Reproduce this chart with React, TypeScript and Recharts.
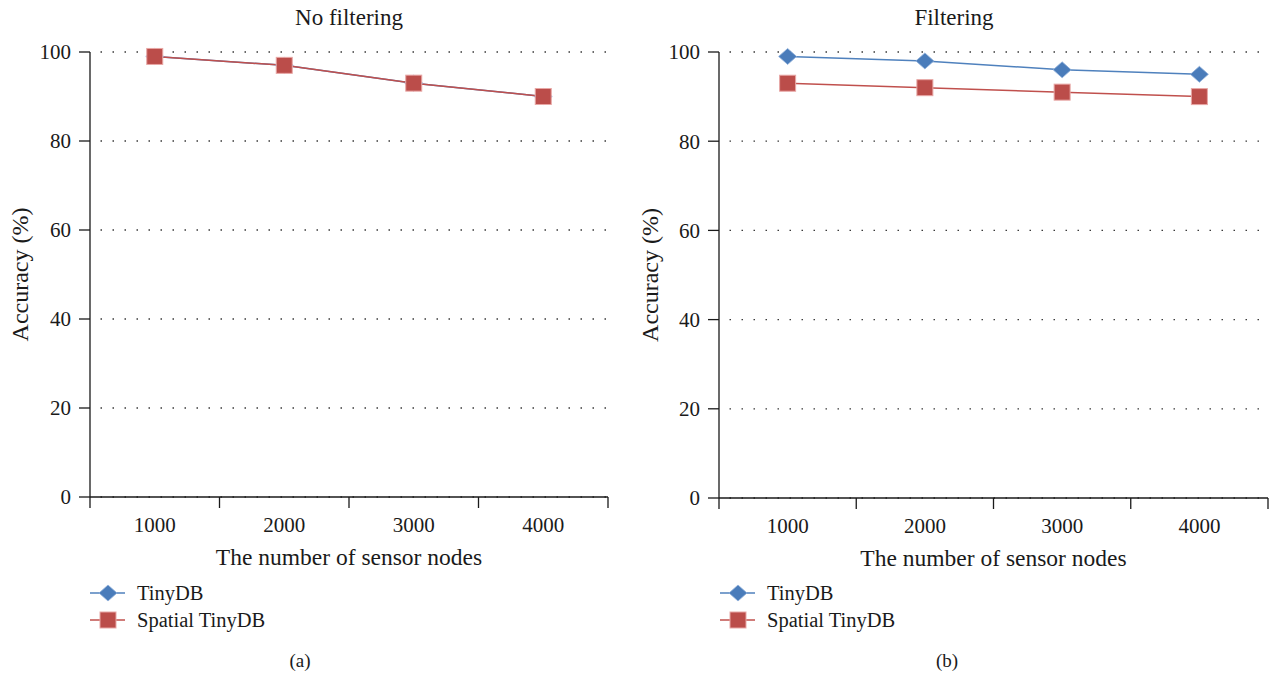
import React from 'react';
import { LineChart, Line, XAxis, YAxis, CartesianGrid, Legend, Label } from 'recharts';

const categories = [1000, 2000, 3000, 4000];
const noFilterTinyDB = [99, 97, 93, 90];
const noFilterSpatial = [99, 97, 93, 90];
const filterTinyDB = [99, 98, 96, 95];
const filterSpatial = [93, 92, 91, 90];
const yTicks = [0, 20, 40, 60, 80, 100];
const seriesNames = ['TinyDB', 'Spatial TinyDB'];
const panelTitles = ['No filtering', 'Filtering'];
const panelTags = ['(a)', '(b)'];
const xLabel = 'The number of sensor nodes';
const yLabel = 'Accuracy (%)';

const FONT = "'Liberation Serif', 'DejaVu Serif', serif";
const BLUE_LINE = '#4f81bd';
const BLUE_MARK = '#4a7cba';
const RED_LINE = '#c0504d';
const RED_MARK = '#bb4d4a';
const INK = '#1a1a1a';

const build = (a: number[], b: number[]) =>
  categories.map((c, i) => ({ pos: i + 1, label: c, tiny: a[i], spatial: b[i] }));

const xTicks = categories
  .flatMap((_, i) => [i + 0.5, i + 1])
  .concat([categories.length + 0.5]);

const XTick = (props: any) => {
  const { x, y, payload } = props;
  const v = payload.value;
  if (Number.isInteger(v)) {
    return (
      <text x={x} y={y + 35} textAnchor="middle" fontSize={21} fill={INK} fontFamily={FONT}>
        {categories[v - 1]}
      </text>
    );
  }
  return <line x1={x} y1={y} x2={x} y2={y + 11} stroke={INK} strokeWidth={1.3} />;
};

const Diamond = (props: any) => {
  const { cx, cy } = props;
  if (cx == null || cy == null) return null;
  return (
    <polygon
      points={`${cx - 9},${cy} ${cx},${cy - 8} ${cx + 9},${cy} ${cx},${cy + 8}`}
      fill={BLUE_MARK}
      stroke="#8fb0da"
      strokeWidth={0.8}
    />
  );
};

const Square = (props: any) => {
  const { cx, cy } = props;
  if (cx == null || cy == null) return null;
  return (
    <rect x={cx - 8} y={cy - 8} width={16} height={16} fill={RED_MARK} stroke="#e8a7a5" strokeWidth={1} />
  );
};

const LegendContent = () => (
  <svg width={240} height={60} style={{ display: 'block' }}>
    <line x1={2} y1={15} x2={37} y2={15} stroke={BLUE_LINE} strokeWidth={1.5} />
    <polygon points={`11,15 20,7 29,15 20,23`} fill={BLUE_MARK} stroke="#8fb0da" strokeWidth={0.8} />
    <text x={49} y={22} fontSize={20.5} fill={INK} fontFamily={FONT}>{seriesNames[0]}</text>
    <line x1={2} y1={42} x2={37} y2={42} stroke={RED_LINE} strokeWidth={1.5} />
    <rect x={12} y={34} width={16} height={16} fill={RED_MARK} stroke="#e8a7a5" strokeWidth={1} />
    <text x={49} y={49} fontSize={20.5} fill={INK} fontFamily={FONT}>{seriesNames[1]}</text>
  </svg>
);

const Panel = ({ data, width, marginRight, marginBottom, yAxisWidth }: any) => (
  <LineChart
    width={width}
    height={678}
    data={data}
    margin={{ top: 52, right: marginRight, left: 0, bottom: marginBottom }}
    style={{ fontFamily: FONT }}
  >
    <CartesianGrid
      vertical={false}
      stroke="#3a3a3a"
      strokeWidth={1.3}
      strokeDasharray="1.5 10.5"
      strokeDashoffset={1.5}
    />
    <XAxis
      dataKey="pos"
      type="number"
      domain={[0.5, 4.5]}
      ticks={xTicks}
      interval={0}
      tickSize={0}
      tickMargin={0}
      tickLine={false}
      height={43}
      axisLine={{ stroke: INK, strokeWidth: 1.3 }}
      tick={<XTick />}
    >
      <Label
        content={({ viewBox }: any) => (
          <text
            x={viewBox.x + viewBox.width / 2}
            y={viewBox.y + 68}
            textAnchor="middle"
            fontSize={23.5}
            fill={INK}
            fontFamily={FONT}
          >
            {xLabel}
          </text>
        )}
      />
    </XAxis>
    <YAxis
      domain={[0, 100]}
      ticks={yTicks}
      interval={0}
      width={yAxisWidth}
      tickSize={11}
      tickMargin={8}
      axisLine={{ stroke: INK, strokeWidth: 1.3 }}
      tickLine={{ stroke: INK, strokeWidth: 1.3 }}
      tick={{ fontSize: 21, fill: INK, fontFamily: FONT }}
    >
      <Label
        content={({ viewBox }: any) => {
          const x = viewBox.x + 20;
          const y = viewBox.y + viewBox.height / 2;
          return (
            <text
              x={x}
              y={y}
              transform={`rotate(-90, ${x}, ${y})`}
              textAnchor="middle"
              dominantBaseline="central"
              fontSize={24}
              fill={INK}
              fontFamily={FONT}
            >
              {yLabel}
            </text>
          );
        }}
      />
    </YAxis>
    <Legend
      layout="horizontal"
      verticalAlign="middle"
      align="center"
      content={<LegendContent />}
      wrapperStyle={{ left: 88, top: 578, width: 240, height: 60 }}
    />
    <Line
      dataKey="tiny"
      name={seriesNames[0]}
      stroke={BLUE_LINE}
      strokeWidth={1.5}
      dot={<Diamond />}
      activeDot={false}
      isAnimationActive={false}
    />
    <Line
      dataKey="spatial"
      name={seriesNames[1]}
      stroke={RED_LINE}
      strokeWidth={1.5}
      dot={<Square />}
      activeDot={false}
      isAnimationActive={false}
    />
  </LineChart>
);

export default function App() {
  return (
    <div style={{ position: 'absolute', left: 0, top: 0, width: 1271, height: 678, background: '#fff', fontFamily: FONT }}>
      <div style={{ position: 'absolute', left: 0, top: 0 }}>
        <Panel data={build(noFilterTinyDB, noFilterSpatial)} width={620} marginRight={12} marginBottom={138} yAxisWidth={90} />
      </div>
      <div style={{ position: 'absolute', left: 630, top: 0 }}>
        <Panel data={build(filterTinyDB, filterSpatial)} width={641} marginRight={3} marginBottom={137} yAxisWidth={89} />
      </div>
      <svg width={1271} height={678} style={{ position: 'absolute', left: 0, top: 0, pointerEvents: 'none' }}>
        <text x={349} y={25} textAnchor="middle" fontSize={23} fill={INK} fontFamily={FONT}>{panelTitles[0]}</text>
        <text x={954} y={25} textAnchor="middle" fontSize={23} fill={INK} fontFamily={FONT}>{panelTitles[1]}</text>
        <text x={300} y={667} textAnchor="middle" fontSize={19} fill={INK} fontFamily={FONT}>{panelTags[0]}</text>
        <text x={947} y={667} textAnchor="middle" fontSize={19} fill={INK} fontFamily={FONT}>{panelTags[1]}</text>
      </svg>
    </div>
  );
}
